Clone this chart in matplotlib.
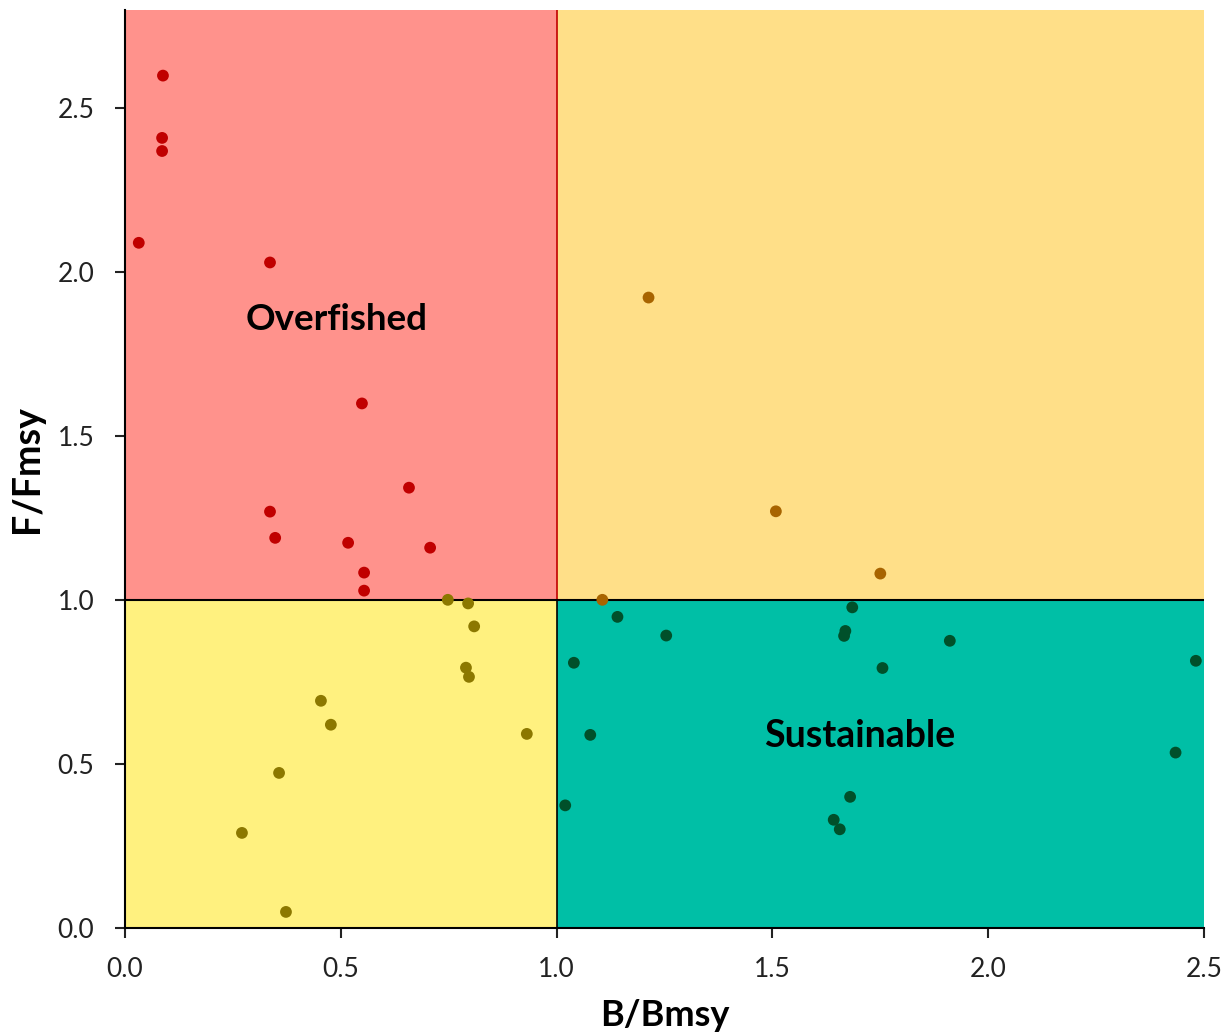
import matplotlib.pyplot as plt
from matplotlib.patches import Rectangle

# stock status points
over_b = [0.088, 0.086, 0.086, 0.032, 0.336, 0.549, 0.658, 0.336, 0.348, 0.517, 0.707, 0.554, 0.554]
over_f = [2.60, 2.41, 2.37, 2.09, 2.03, 1.60, 1.343, 1.27, 1.19, 1.175, 1.16, 1.084, 1.029]

low_b = [0.748, 0.795, 0.809, 0.790, 0.797, 0.454, 0.477, 0.931, 0.357, 0.271, 0.373]
low_f = [1.001, 0.99, 0.92, 0.794, 0.766, 0.693, 0.62, 0.592, 0.473, 0.29, 0.049]

high_b = [1.213, 1.508, 1.750, 1.106]
high_f = [1.923, 1.271, 1.081, 1.001]

sus_b = [1.141, 1.254, 1.685, 1.669, 1.666, 1.911, 1.040, 1.755, 2.481, 1.078, 2.434, 1.020, 1.680, 1.642, 1.656]
sus_f = [0.949, 0.892, 0.978, 0.906, 0.891, 0.876, 0.809, 0.793, 0.815, 0.589, 0.535, 0.374, 0.400, 0.330, 0.301]

xticks = [0.0, 0.5, 1.0, 1.5, 2.0, 2.5]
yticks = [0.0, 0.5, 1.0, 1.5, 2.0, 2.5]

plt.rcParams['font.family'] = ['Lato', 'DejaVu Sans']

fig = plt.figure(figsize=(12.3, 10.35), dpi=100)
ax = fig.add_axes([0.1016, 0.1034, 0.8773, 0.8869])
ax.set_xlim(0, 2.5)
ax.set_ylim(0, 2.8)

# quadrants
ax.add_patch(Rectangle((0, 1), 1, 1.8, facecolor='#FF928C', edgecolor='none', zorder=0))
ax.add_patch(Rectangle((1, 1), 1.5, 1.8, facecolor='#FFDF88', edgecolor='none', zorder=0))
ax.add_patch(Rectangle((0, 0), 1, 1, facecolor='#FFF17F', edgecolor='none', zorder=0))
ax.add_patch(Rectangle((1, 0), 1.5, 1, facecolor='#00BFA6', edgecolor='none', zorder=0))

ax.plot([1, 1], [1, 2.8], color='#C00000', lw=1.2, zorder=1)
ax.plot([1, 1], [0, 1], color='black', lw=1.2, zorder=1)
ax.plot([0, 2.5], [1, 1], color='black', lw=1.5, zorder=1)

ax.scatter(over_b, over_f, s=72, color='#C00000', edgecolors='none', zorder=3)
ax.scatter(low_b, low_f, s=72, color='#8C7800', edgecolors='none', zorder=4)
ax.scatter(high_b, high_f, s=72, color='#A86400', edgecolors='none', zorder=4)
ax.scatter(sus_b, sus_f, s=72, color='#00502A', edgecolors='none', zorder=3)

ax.text(0.491, 1.856, 'Overfished', fontsize=26.5, fontweight='bold', ha='center', va='center', zorder=5)
ax.text(1.702, 0.587, 'Sustainable', fontsize=27, fontweight='bold', ha='center', va='center', zorder=5)

ax.set_xticks(xticks)
ax.set_yticks(yticks)
ax.set_xticklabels([f'{v:.1f}' for v in xticks])
ax.set_yticklabels([f'{v:.1f}' for v in yticks])
ax.tick_params(axis='both', direction='out', length=7, width=1.5, labelsize=19, color='#222222', labelcolor='#222222')
ax.tick_params(axis='x', pad=14)
ax.tick_params(axis='y', pad=15)

for side in ['top', 'right']:
    ax.spines[side].set_visible(False)
for side in ['left', 'bottom']:
    ax.spines[side].set_linewidth(1.5)
    ax.spines[side].set_zorder(6)

ax.set_xlabel('B/Bmsy', fontsize=26, fontweight='bold', labelpad=12)
ax.set_ylabel('F/Fmsy', fontsize=27, fontweight='bold', labelpad=10)

fig.savefig('out.png', dpi=100)
